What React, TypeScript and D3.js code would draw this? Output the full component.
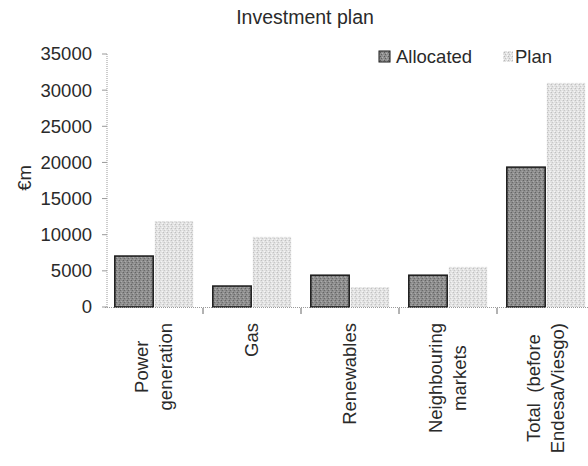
import React from "react";
import * as d3 from "d3";

const categories: string[][] = [
  ["Power", "generation"],
  ["Gas"],
  ["Renewables"],
  ["Neighbouring", "markets"],
  ["Total  (before", "Endesa/Viesgo)"],
];
const categoryKeys = ["power", "gas", "renewables", "neighbouring", "total"];
const allocated = [7050, 2900, 4400, 4400, 19350];
const plan = [11900, 9700, 2750, 5550, 31000];
const seriesNames = ["Allocated", "Plan"];
const yTicks = [0, 5000, 10000, 15000, 20000, 25000, 30000, 35000];
const title = "Investment plan";
const yLabel = "€m";

const W = 588;
const H = 466;
const FONT = "'Liberation Sans', Arial, Helvetica, sans-serif";

function measure(text: string, size: number): number {
  try {
    const c = document.createElement("canvas");
    const ctx = c.getContext("2d");
    if (ctx) {
      ctx.font = `${size}px 'Liberation Sans', Arial, sans-serif`;
      return ctx.measureText(text).width;
    }
  } catch (e) {}
  return text.length * size * 0.5;
}

export default function App() {
  const y = d3.scaleLinear().domain([0, 35000]).range([307, 54]);
  const x0 = d3
    .scaleBand<string>()
    .domain(categoryKeys)
    .range([105, 595])
    .paddingInner(0.2)
    .paddingOuter(0.1);
  const x1 = d3
    .scaleBand<string>()
    .domain(seriesNames)
    .range([0, x0.bandwidth()])
    .paddingInner(0.04);
  const values = [allocated, plan];
  const fills = ["url(#patDark)", "url(#patLight)"];
  const fs = 18.5;
  const lineH = 24;
  const txt = "#2a2a2a";

  return (
    <svg
      width={W}
      height={H}
      style={{ position: "absolute", left: 0, top: 0, background: "#fff" }}
      fontFamily={FONT}
    >
      <defs>
        <pattern id="patDark" width="4" height="4" patternUnits="userSpaceOnUse">
          <rect width="4" height="4" fill="#8e8e8e" />
          <rect x="0" y="0" width="1" height="1" fill="#5a5a5a" />
          <rect x="2" y="1" width="1" height="1" fill="#b4b4b4" />
          <rect x="1" y="2" width="1" height="1" fill="#626262" />
          <rect x="3" y="3" width="1" height="1" fill="#a8a8a8" />
        </pattern>
        <pattern id="patLight" width="4" height="4" patternUnits="userSpaceOnUse">
          <rect width="4" height="4" fill="#e2e2e2" />
          <rect x="0" y="0" width="1" height="1" fill="#b8b8b8" />
          <rect x="2" y="1" width="1" height="1" fill="#f8f8f8" />
          <rect x="1" y="2" width="1" height="1" fill="#c2c2c2" />
          <rect x="3" y="3" width="1" height="1" fill="#fafafa" />
        </pattern>
      </defs>

      <text x={305} y={24} textAnchor="middle" fontSize={19.5} fill={txt}>
        {title}
      </text>

      {/* y axis */}
      <line x1={107} x2={107} y1={y(35000)} y2={y(0)} stroke="#999" strokeDasharray="1,1" />
      {yTicks.map((t) => (
        <g key={t}>
          <line x1={102} x2={107} y1={y(t)} y2={y(t)} stroke="#999" strokeWidth={1} />
          <text x={92} y={y(t)} dy="0.35em" textAnchor="end" fontSize={fs} fill={txt}>
            {t}
          </text>
        </g>
      ))}
      <text
        transform={`translate(31,178) rotate(-90)`}
        textAnchor="middle"
        fontSize={fs}
        fill={txt}
      >
        {yLabel}
      </text>

      {/* bars */}
      {categoryKeys.map((k, i) => (
        <g key={k} transform={`translate(${x0(k)},0)`}>
          {seriesNames.map((s, j) => (
            <rect
              key={s}
              x={x1(s)}
              y={y(values[j][i])}
              width={x1.bandwidth()}
              height={y(0) - y(values[j][i])}
              fill={fills[j]}
              stroke={j === 0 ? "#1a1a1a" : "none"}
              strokeWidth={j === 0 ? 1.5 : 0}
            />
          ))}
        </g>
      ))}

      {/* x axis */}
      <line x1={105} x2={588} y1={y(0) + 0.5} y2={y(0) + 0.5} stroke="#999" strokeDasharray="1,1" />
      {categoryKeys.slice(1).map((k) => {
        const bx = (x0(k) as number) - (x0.step() * x0.paddingInner()) / 2;
        return (
          <line key={k} x1={bx} x2={bx} y1={y(0) + 1} y2={y(0) + 7} stroke="#666" strokeWidth={1} />
        );
      })}

      {/* category labels */}
      {categoryKeys.map((k, i) => {
        const cx = (x0(k) as number) + x0.bandwidth() / 2;
        const lines = categories[i];
        const maxW = Math.max(...lines.map((l) => measure(l, fs)));
        const cy = 323 + maxW / 2;
        const n = lines.length;
        return (
          <text
            key={k}
            transform={`translate(${cx},${cy}) rotate(-90)`}
            textAnchor="middle"
            fontSize={fs}
            fill={txt}
            style={{ whiteSpace: "pre" }}
          >
            {lines.map((l, li) => (
              <tspan key={li} x={0} y={(li - (n - 1) / 2) * lineH} dy="0.35em">
                {l}
              </tspan>
            ))}
          </text>
        );
      })}

      {/* legend */}
      <rect x={379} y={51} width={11} height={11} fill="url(#patDark)" stroke="#1a1a1a" strokeWidth={1} />
      <text x={396} y={63} fontSize={fs} fill={txt}>
        {seriesNames[0]}
      </text>
      <rect x={503} y={51} width={10} height={11} fill="url(#patLight)" />
      <text x={515} y={63} fontSize={fs} fill={txt}>
        {seriesNames[1]}
      </text>
    </svg>
  );
}
